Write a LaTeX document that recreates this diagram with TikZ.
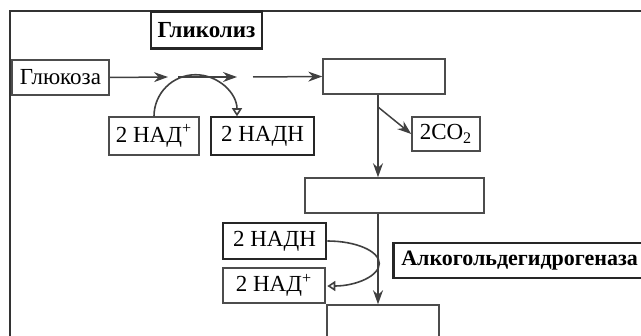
\documentclass[tikz,border=0pt]{standalone}
\usepackage{fontspec}
\setmainfont{Liberation Serif}
\usetikzlibrary{arrows.meta}
\begin{document}
\begin{tikzpicture}[x=0.5pt,y=0.5pt,
	box/.style={draw=black!70,line width=0.75pt,inner sep=0pt,font=\fontsize{11.5}{13}\selectfont},
	boldbox/.style={box,draw=black!85,line width=1.3pt},
	flow/.style={draw=black!75,line width=0.75pt,-{Stealth[length=7pt,width=5pt]}},
	back/.style={draw=black!75,line width=0.8pt,-{Triangle[open,length=4pt,width=5pt]}}]
	\useasboundingbox (0,0) rectangle (641,-336);
	\clip (0,0) rectangle (641,-336);
	\draw[line width=1pt,black!80] (10,-345) -- (10,-11) -- (650,-11);
	% glycolysis
	\node[boldbox,minimum width=55.5pt,minimum height=18.5pt,font=\fontsize{11.5}{13}\selectfont\bfseries] (glyk) at (206.5,-30) {Гликолиз};
	\node[box,minimum width=48.5pt,minimum height=17.5pt] (gluk) at (60.5,-77.5) {Глюкоза};
	\node[box,minimum width=61pt,minimum height=17.5pt] (box1) at (384,-76.5) {};
	\node[box,minimum width=45pt,minimum height=19pt] (nad1) at (154,-136) {2 НАД\textsuperscript{+}};
	\node[boldbox,minimum width=51.5pt,minimum height=19pt] (nadh1) at (262.5,-136) {2 НАДН};
	\coordinate (t1) at (168,-77);
	\coordinate (s2) at (178,-77);
	\coordinate (t2) at (237,-77);
	\coordinate (s3) at (253,-77);
	\draw[flow] (gluk.east) -- (t1);
	\draw[flow] (s2) -- (t2);
	\draw[flow] (s3) -- (box1.west);
	\draw[back] (nad1.north) arc[start angle=180,end angle=0,radius=41.5];
	% decarboxylation
	\node[box,minimum width=34pt,minimum height=17pt] (co2) at (446,-134) {2CO\textsubscript{2}};
	\node[box,minimum width=89.5pt,minimum height=17.5pt] (box2) at (394.5,-195.5) {};
	\coordinate (axis) at (378,0);
	\coordinate (fork) at (378,-107);
	\draw[flow] (axis |- box1.south) -- (axis |- box2.north);
	\draw[flow] (fork) -- (co2.west);
	% reduction
	\node[boldbox,minimum width=51.5pt,minimum height=18pt] (nadh2) at (274.5,-241) {2 НАДН};
	\node[box,minimum width=51pt,minimum height=17.5pt] (nad2) at (274,-285.5) {2 НАД\textsuperscript{+}};
	\node[boldbox,anchor=west,minimum height=17.5pt,inner xsep=4pt,text width=130pt,font=\fontsize{11}{13}\selectfont\bfseries] (adh) at (392,-260.5) {Алкогольдегидрогеназа};
	\node[box,minimum width=56pt,minimum height=25pt] (box3) at (383,-330) {};
	\draw[flow] (axis |- box2.south) -- (axis |- box3.north);
	\draw[back] (nadh2.east) arc[start angle=90,end angle=-90,x radius=52,y radius=22.5];
\end{tikzpicture}
\end{document}
